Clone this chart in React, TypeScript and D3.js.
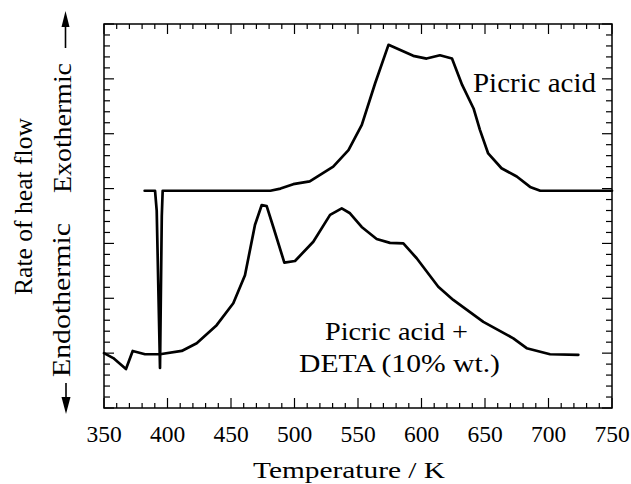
import React from 'react';
import * as d3 from 'd3';

// Picric acid (upper DSC trace)
const picricT = [382, 390.2, 391.5, 394.1, 395.5, 396.2, 400, 440, 481, 489, 499, 512, 530.5, 542.5, 553, 563.5, 574, 593.5, 604, 614.5, 624, 632, 641, 646, 652.5, 663, 675, 685.5, 693.5, 750];
const picricV = [3.96, 3.96, 3.6, 0.73, 3.5, 3.96, 3.96, 3.96, 3.96, 4.0, 4.08, 4.13, 4.4, 4.7, 5.16, 5.92, 6.62, 6.42, 6.37, 6.43, 6.37, 5.89, 5.46, 5.07, 4.64, 4.37, 4.22, 4.03, 3.96, 3.96];

// Picric acid + DETA (10% wt.) (lower trace)
const detaT = [350, 357.3, 367.3, 372.6, 382.3, 394, 411.2, 423, 438.7, 451.8, 461, 468.9, 474.2, 478.1, 483.3, 492, 500.4, 514.8, 528, 537.2, 543.7, 552.9, 564.7, 575.2, 585.7, 596.2, 613.2, 625, 648.7, 672.3, 682.8, 701.2, 723.5];
const detaV = [1.0, 0.91, 0.71, 1.04, 0.98, 0.98, 1.04, 1.18, 1.51, 1.91, 2.42, 3.34, 3.7, 3.68, 3.3, 2.65, 2.68, 3.03, 3.52, 3.64, 3.55, 3.3, 3.08, 3.01, 3.0, 2.73, 2.21, 1.97, 1.57, 1.27, 1.09, 0.98, 0.97];

const xTickLabels = [350, 400, 450, 500, 550, 600, 650, 700, 750];

const W = 631;
const H = 484;
const L = 104, R = 612, T = 24, B = 408;
const FONT = '"Liberation Serif", "Times New Roman", serif';

export default function App() {
  const x = d3.scaleLinear().domain([350, 750]).range([L, R]);
  const y = d3.scaleLinear().domain([0, 7]).range([B, T]);
  const line = d3.line<[number, number]>().x(d => x(d[0])).y(d => y(d[1]));
  const p1 = line(picricT.map((t, i) => [t, picricV[i]] as [number, number])) || '';
  const p2 = line(detaT.map((t, i) => [t, detaV[i]] as [number, number])) || '';

  const xMinor = d3.range(350, 751, 10);
  const yMinor = d3.range(0, 36).map(i => i * 0.2);
  const isMajX = (v: number) => v % 50 === 0;
  const isMajY = (v: number) => Math.abs(v - Math.round(v)) < 1e-6;

  return (
    <svg width={W} height={H} style={{ position: 'absolute', left: 0, top: 0, background: '#fff' }}>
      <rect x={0} y={0} width={W} height={H} fill="#fff" />
      {/* frame */}
      <rect x={L} y={T} width={R - L} height={B - T} fill="none" stroke="#000" strokeWidth={1.5} />
      {/* x ticks top and bottom */}
      {xMinor.map(v => {
        const len = isMajX(v) ? 10 : 5;
        return (
          <g key={'xt' + v}>
            <line x1={x(v)} x2={x(v)} y1={B} y2={B - len} stroke="#000" strokeWidth={1.2} />
            <line x1={x(v)} x2={x(v)} y1={T} y2={T + len} stroke="#000" strokeWidth={1.2} />
          </g>
        );
      })}
      {/* y ticks left and right */}
      {yMinor.map(v => {
        const len = isMajY(v) ? 10 : 6;
        return (
          <g key={'yt' + v}>
            <line x1={L} x2={L + len} y1={y(v)} y2={y(v)} stroke="#000" strokeWidth={1.2} />
            <line x1={R} x2={R - len} y1={y(v)} y2={y(v)} stroke="#000" strokeWidth={1.2} />
          </g>
        );
      })}
      {/* x tick labels */}
      {xTickLabels.map(v => (
        <text key={'xl' + v} x={x(v)} y={441.5} textAnchor="middle" fontFamily={FONT} fontSize={23.5} fill="#000">
          {v}
        </text>
      ))}
      {/* x axis title */}
      <text x={349} y={478} textAnchor="middle" fontFamily={FONT} fontSize={24} fill="#000" textLength={192} lengthAdjust="spacingAndGlyphs">
        Temperature / K
      </text>
      {/* y axis titles */}
      <text transform="translate(32,206.5) rotate(-90)" textAnchor="middle" fontFamily={FONT} fontSize={26} fill="#000" textLength={177} lengthAdjust="spacingAndGlyphs">
        Rate of heat flow
      </text>
      <text transform="translate(70,300) rotate(-90)" textAnchor="middle" fontFamily={FONT} fontSize={25} fill="#000" textLength={154} lengthAdjust="spacingAndGlyphs">
        Endothermic
      </text>
      <text transform="translate(71,128) rotate(-90)" textAnchor="middle" fontFamily={FONT} fontSize={25} fill="#000" textLength={130} lengthAdjust="spacingAndGlyphs">
        Exothermic
      </text>
      {/* arrows */}
      <line x1={65.5} x2={65.5} y1={48} y2={24} stroke="#000" strokeWidth={1.6} />
      <path d="M65.5,11 L61.5,27 L69.5,27 Z" fill="#000" />
      <line x1={66} x2={66} y1={383} y2={400} stroke="#000" strokeWidth={1.6} />
      <path d="M66,414 L61.5,397 L70.5,397 Z" fill="#000" />
      {/* curves */}
      <path d={p1} fill="none" stroke="#000" strokeWidth={2.7} strokeLinejoin="round" strokeLinecap="round" />
      <path d={p2} fill="none" stroke="#000" strokeWidth={2.7} strokeLinejoin="round" strokeLinecap="round" />
      {/* curve labels */}
      <text x={473} y={92} fontFamily={FONT} fontSize={27} fill="#000" textLength={123} lengthAdjust="spacingAndGlyphs">
        Picric acid
      </text>
      <text x={325} y={340} fontFamily={FONT} fontSize={25} fill="#000" textLength={143} lengthAdjust="spacingAndGlyphs">
        Picric acid +
      </text>
      <text x={299} y={372} fontFamily={FONT} fontSize={25} fill="#000" textLength={201} lengthAdjust="spacingAndGlyphs">
        DETA (10% wt.)
      </text>
    </svg>
  );
}
